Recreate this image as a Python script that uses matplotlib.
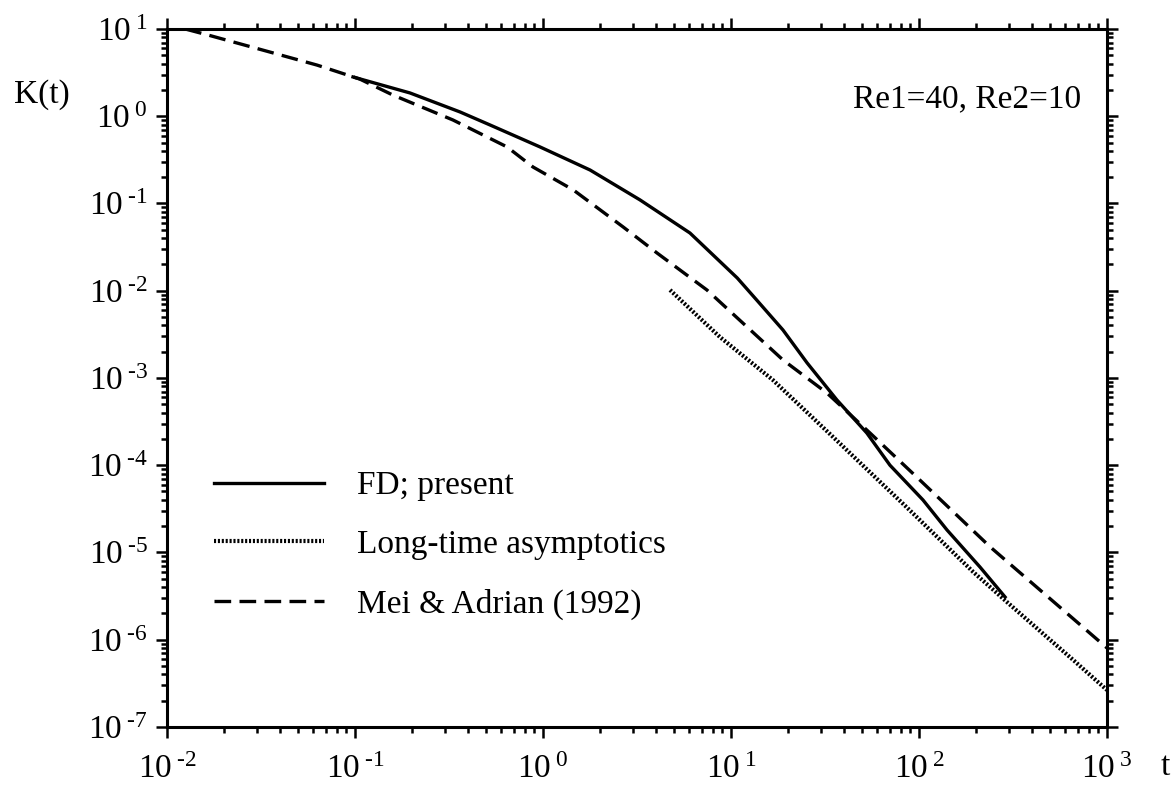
import numpy as np
import matplotlib
matplotlib.use("Agg")
import matplotlib.pyplot as plt
from matplotlib.ticker import LogLocator, FixedLocator, FixedFormatter, NullFormatter

plt.rcParams["font.family"] = ["Liberation Serif", "DejaVu Serif"]
plt.rcParams["mathtext.fontset"] = "custom"
plt.rcParams["mathtext.rm"] = "Liberation Serif"
plt.rcParams["mathtext.it"] = "Liberation Serif:italic"
plt.rcParams["lines.scale_dashes"] = False

# FD; present
t_fd = [0.0976, 0.196, 0.362, 0.523, 0.964, 1.78, 3.28, 6.05, 10.8, 13.7,
        18.9, 25.4, 36.6, 52.8, 70.1, 105, 141, 211, 287]
k_fd = [2.82, 1.85, 1.12, 0.794, 0.445, 0.242, 0.110, 0.0459, 0.0140, 0.00783,
        0.00355, 0.00149, 5.60e-4, 2.34e-4, 1.0e-4, 4.00e-5, 1.81e-5, 6.82e-6, 3.09e-6]

# long-time asymptotics
t_lt = [4.74, 8.73, 16.7, 34.9, 86.0, 194, 294, 480, 659, 1000]
k_lt = [0.0102, 0.00295, 9.49e-4, 2.11e-4, 3.3e-5, 6.0e-6, 2.7e-6, 1.07e-6, 5.9e-7, 2.65e-7]

# Mei & Adrian (1992)
t_ma = [0.0125, 0.0165, 0.0353, 0.0628, 0.106, 0.159, 0.332, 0.644, 0.885, 1.45,
        2.67, 4.04, 7.45, 10.8, 18.9, 32.4, 54.9, 101, 239, 440, 1000]
k_ma = [10.0, 8.54, 5.44, 3.86, 2.67, 1.75, 0.906, 0.445, 0.262, 0.143,
        0.0538, 0.0271, 0.0102, 0.00488, 0.00161, 6.73e-4, 2.34e-4, 6.78e-5,
        1.16e-5, 3.72e-6, 8.05e-7]

x_exps = [-2, -1, 0, 1, 2, 3]
y_exps = [1, 0, -1, -2, -3, -4, -5, -6, -7]

FS = 24


def pow_label(e):
    # plain hyphen in the exponent, with a small gap after the 10
    return r"$10^{\;\text{%d}}$" % e


fig = plt.figure(figsize=(11.76, 7.86), dpi=100)
ax = fig.add_axes([0.142, 0.0751, 0.7993, 0.888])

lw = 2.4
ax.plot(t_fd, k_fd, color="black", lw=lw, label="FD; present")
ax.plot(t_lt, k_lt, color="black", lw=3.0, linestyle=(0, (1.5, 1.3)),
        dash_capstyle="butt", label="Long-time asymptotics")
ax.plot(t_ma, k_ma, color="black", lw=lw, linestyle=(0, (12, 6)),
        dash_capstyle="butt", label="Mei & Adrian (1992)")

ax.set_xscale("log")
ax.set_yscale("log")
ax.set_xlim(1e-2, 1e3)
ax.set_ylim(1e-7, 1e1)

ax.xaxis.set_major_locator(FixedLocator([10.0 ** e for e in x_exps]))
ax.xaxis.set_major_formatter(FixedFormatter([pow_label(e) for e in x_exps]))
ax.yaxis.set_major_locator(FixedLocator([10.0 ** e for e in y_exps]))
ax.yaxis.set_major_formatter(FixedFormatter([pow_label(e) for e in y_exps]))
for axis in (ax.xaxis, ax.yaxis):
    axis.set_minor_locator(LogLocator(base=10, subs=np.arange(2, 10), numticks=20))
    axis.set_minor_formatter(NullFormatter())

ax.tick_params(which="both", direction="out", top=True, right=True,
               width=1.8, color="black", labelsize=FS)
ax.tick_params(which="major", length=8)
ax.tick_params(which="minor", length=4)
ax.tick_params(axis="x", which="major", pad=12)
ax.tick_params(axis="y", which="major", pad=6)
for sp in ax.spines.values():
    sp.set_linewidth(2.2)

ax.text(0.973, 0.888, "Re1=40, Re2=10", transform=ax.transAxes,
        ha="right", va="baseline", fontsize=FS)

fig.text(42 / 1176, 1 - 95 / 786, "K(t)", ha="center", va="center", fontsize=FS)
fig.text(1165 / 1176, 1 - 767 / 786, "t", ha="center", va="center", fontsize=FS)

ax.legend(loc="upper left", bbox_to_anchor=(0.018, 0.41), frameon=False,
          fontsize=FS, handlelength=3.3, handletextpad=1.0, labelspacing=0.85)

fig.savefig("out.png", dpi=100)
